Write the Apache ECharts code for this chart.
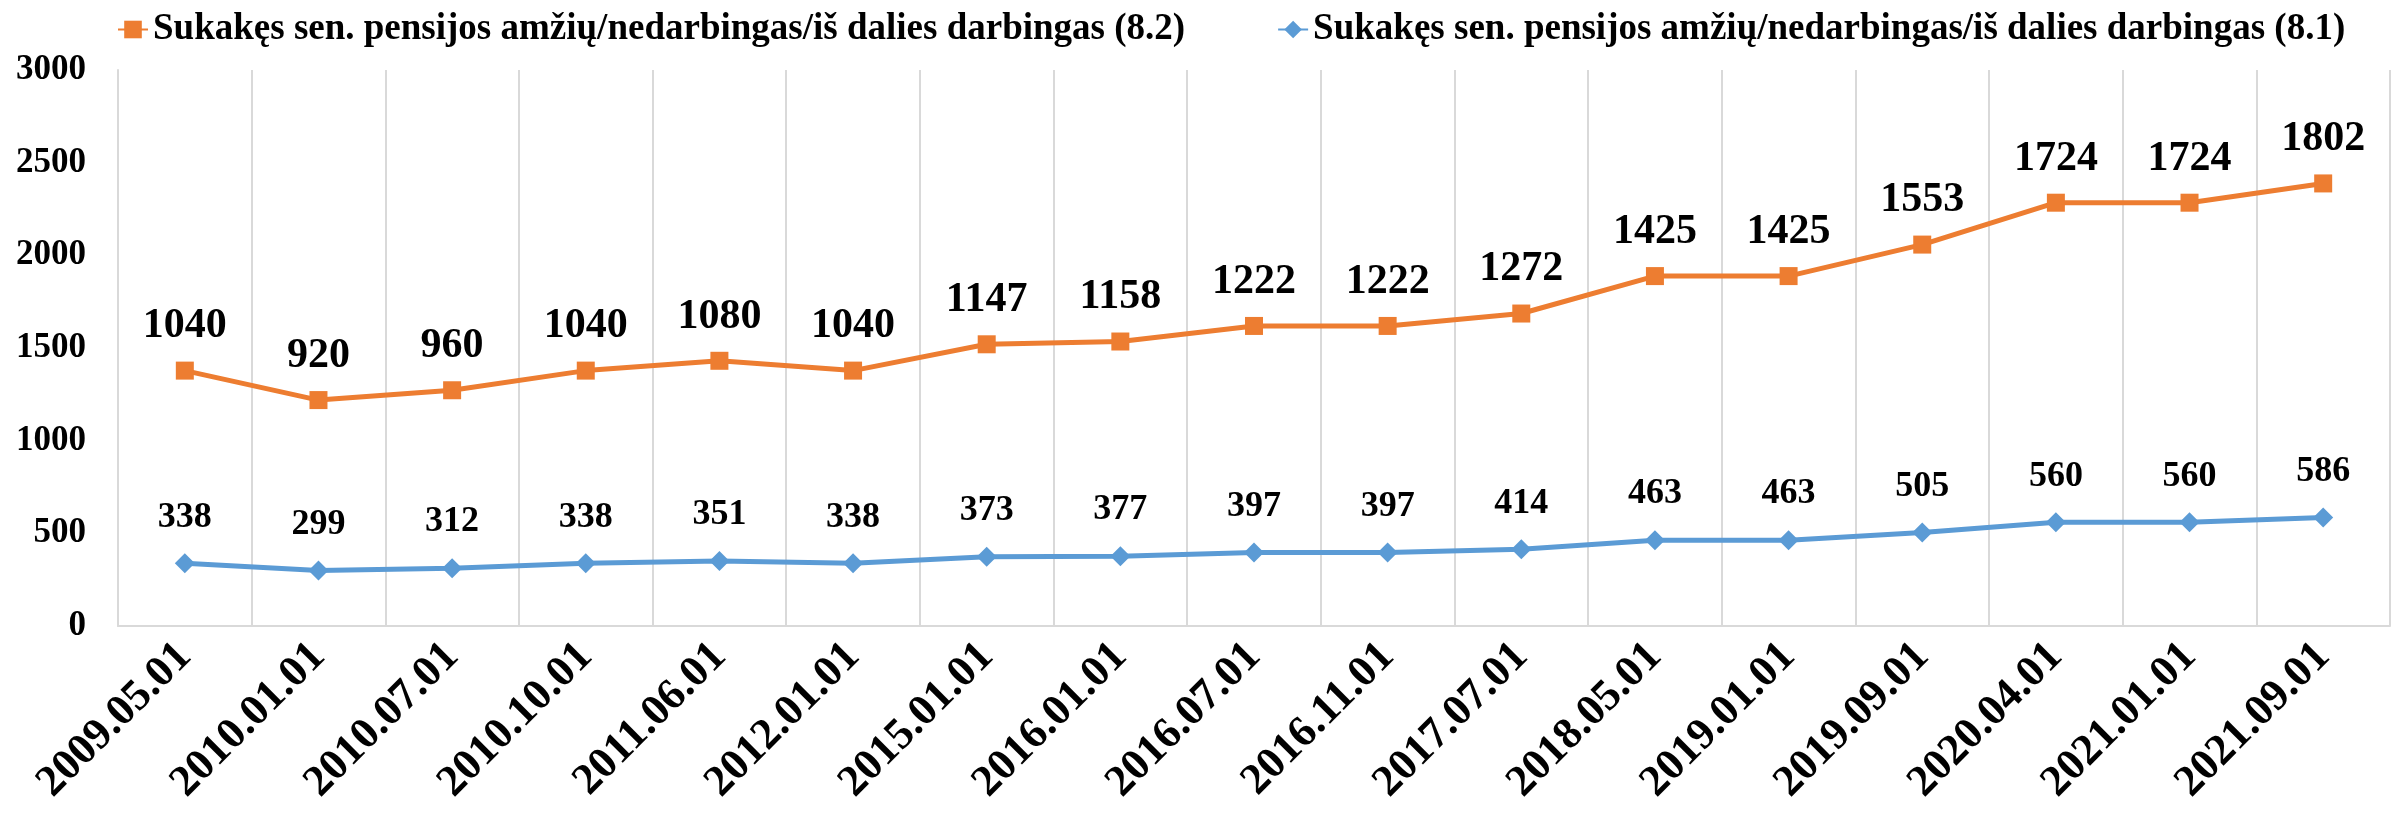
<!DOCTYPE html>
<html>
<head>
<meta charset="utf-8">
<script src="https://cdn.jsdelivr.net/npm/echarts@6/dist/echarts.min.js"></script>
<style>
  html, body { margin: 0; padding: 0; background: #fff; }
  #chart { width: 2407px; height: 819px; }
</style>
</head>
<body>
<div id="chart"></div>
<script>
const categories = [
  "2009.05.01", "2010.01.01", "2010.07.01", "2010.10.01", "2011.06.01",
  "2012.01.01", "2015.01.01", "2016.01.01", "2016.07.01", "2016.11.01",
  "2017.07.01", "2018.05.01", "2019.01.01", "2019.09.01", "2020.04.01",
  "2021.01.01", "2021.09.01",
];
const series81 = [338, 299, 312, 338, 351, 338, 373, 377, 397, 397, 414, 463, 463, 505, 560, 560, 586];
const series82 = [1040, 920, 960, 1040, 1080, 1040, 1147, 1158, 1222, 1222, 1272, 1425, 1425, 1553, 1724, 1724, 1802];

const name81 = "Sukakęs sen. pensijos amžių/nedarbingas/iš dalies darbingas (8.1)";
const name82 = "Sukakęs sen. pensijos amžių/nedarbingas/iš dalies darbingas (8.2)";

const font = "'Liberation Serif', 'Times New Roman', serif";
const blue = "#5B9BD5";
const orange = "#ED7D31";

const chart = echarts.init(document.getElementById("chart"));

chart.setOption({
  animation: false,
  textStyle: { fontFamily: font },
  legend: {
    data: [name82, name81],
    left: 112,
    top: 6,
    itemWidth: 30,
    itemHeight: 22,
    itemGap: 92,
    textStyle: {
      fontFamily: font,
      fontWeight: "bold",
      fontSize: 37,
      color: "#000",
    },
  },
  grid: {
    left: 118,
    right: 17,
    top: 70,
    bottom: 193,
  },
  xAxis: {
    type: "category",
    data: categories,
    boundaryGap: true,
    axisLine: { show: true, lineStyle: { color: "#d9d9d9", width: 2 } },
    axisTick: { show: false },
    splitLine: { show: true, lineStyle: { color: "#d9d9d9", width: 2 } },
    axisLabel: {
      rotate: 45,
      interval: 0,
      margin: 24,
      fontFamily: font,
      fontWeight: "bold",
      fontSize: 44,
      color: "#000",
    },
  },
  yAxis: {
    type: "value",
    min: 0,
    max: 3000,
    interval: 500,
    axisLine: { show: true, lineStyle: { color: "#d9d9d9", width: 2 } },
    axisTick: { show: false },
    splitLine: { show: false },
    axisLabel: {
      margin: 32,
      fontFamily: font,
      fontWeight: "bold",
      fontSize: 35,
      color: "#000",
      formatter: (v) => String(v),
    },
  },
  series: [
    {
      name: name81,
      type: "line",
      stack: "total",
      data: series81,
      symbol: "diamond",
      symbolSize: 20,
      lineStyle: { color: blue, width: 5 },
      itemStyle: { color: blue },
      label: {
        show: true,
        position: "top",
        distance: 18,
        fontFamily: font,
        fontWeight: "bold",
        fontSize: 36,
        color: "#000",
      },
    },
    {
      name: name82,
      type: "line",
      stack: "total",
      data: series82,
      symbol: "rect",
      symbolSize: 18,
      lineStyle: { color: orange, width: 5 },
      itemStyle: { color: orange },
      label: {
        show: true,
        position: "top",
        distance: 14,
        fontFamily: font,
        fontWeight: "bold",
        fontSize: 42,
        color: "#000",
      },
    },
  ],
});
</script>
</body>
</html>
